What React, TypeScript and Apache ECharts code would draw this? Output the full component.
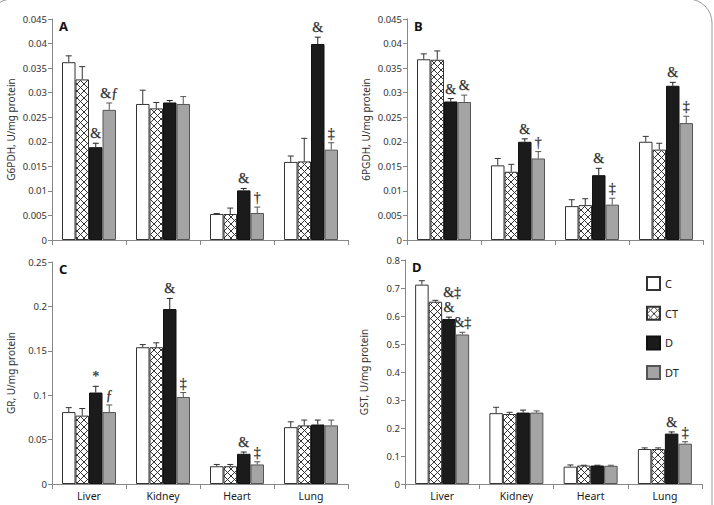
import React, { useEffect, useRef } from 'react';
import * as echarts from 'echarts';

const organs = ['Liver', 'Kidney', 'Heart', 'Lung'];
const groups = ['C', 'CT', 'D', 'DT'];

// G6PDH activity, U/mg protein (mean and SEM per organ)
const g6pdhC = [0.0362, 0.0277, 0.0053, 0.0159];
const g6pdhCT = [0.0327, 0.0268, 0.0053, 0.016];
const g6pdhD = [0.0189, 0.028, 0.0101, 0.0399];
const g6pdhDT = [0.0265, 0.0277, 0.0055, 0.0184];
const g6pdhErrC = [0.0013, 0.0028, 0.0001, 0.0012];
const g6pdhErrCT = [0.0026, 0.0012, 0.0012, 0.0047];
const g6pdhErrD = [0.0008, 0.0004, 0.0004, 0.0014];
const g6pdhErrDT = [0.0014, 0.0015, 0.0012, 0.0014];
const g6pdhMarksD = ['&', '', '&', '&'];
const g6pdhMarksDT = ['&ƒ', '', '†', '‡'];

// 6PGDH activity, U/mg protein
const pgdhC = [0.0368, 0.0152, 0.0069, 0.02];
const pgdhCT = [0.0367, 0.0139, 0.0071, 0.0184];
const pgdhD = [0.0282, 0.02, 0.0132, 0.0314];
const pgdhDT = [0.0281, 0.0166, 0.0072, 0.0238];
const pgdhErrC = [0.0011, 0.0014, 0.0013, 0.0011];
const pgdhErrCT = [0.0018, 0.0015, 0.0013, 0.0013];
const pgdhErrD = [0.0006, 0.0006, 0.0014, 0.0007];
const pgdhErrDT = [0.0014, 0.0014, 0.0013, 0.0014];
const pgdhMarksD = ['&', '&', '&', '&'];
const pgdhMarksDT = ['&', '†', '‡', '‡'];

// GR activity, U/mg protein
const grC = [0.081, 0.154, 0.02, 0.064];
const grCT = [0.077, 0.154, 0.02, 0.066];
const grD = [0.103, 0.197, 0.034, 0.067];
const grDT = [0.081, 0.098, 0.022, 0.066];
const grErrC = [0.005, 0.003, 0.002, 0.006];
const grErrCT = [0.008, 0.005, 0.002, 0.006];
const grErrD = [0.007, 0.012, 0.002, 0.005];
const grErrDT = [0.008, 0.005, 0.003, 0.006];
const grMarksD = ['*', '&', '&', ''];
const grMarksDT = ['ƒ', '‡', '‡', ''];

// GST activity, U/mg protein
const gstC = [0.712, 0.253, 0.062, 0.125];
const gstCT = [0.651, 0.25, 0.066, 0.125];
const gstD = [0.589, 0.255, 0.066, 0.18];
const gstDT = [0.534, 0.255, 0.065, 0.144];
const gstErrC = [0.014, 0.021, 0.006, 0.004];
const gstErrCT = [0.005, 0.006, 0.001, 0.004];
const gstErrD = [0.007, 0.009, 0.001, 0.006];
const gstErrDT = [0.008, 0.006, 0.002, 0.007];
const gstMarksCT = ['&‡', '', '', ''];
const gstMarksD = ['&', '', '', '&'];
const gstMarksDT = ['&‡', '', '', '‡'];

const noMarks = ['', '', '', ''];

// y-axis tick labels
const g6pdhTicks = [0, 0.005, 0.01, 0.015, 0.02, 0.025, 0.03, 0.035, 0.04, 0.045];
const pgdhTicks = [0, 0.005, 0.01, 0.015, 0.02, 0.025, 0.03, 0.035, 0.04, 0.045];
const grTicks = [0, 0.05, 0.1, 0.15, 0.2, 0.25];
const gstTicks = [0, 0.1, 0.2, 0.3, 0.4, 0.5, 0.6, 0.7, 0.8];

const panels = [
  {
    letter: 'A',
    name: 'G6PDH, U/mg protein',
    ticks: g6pdhTicks,
    means: [g6pdhC, g6pdhCT, g6pdhD, g6pdhDT],
    errs: [g6pdhErrC, g6pdhErrCT, g6pdhErrD, g6pdhErrDT],
    marks: [noMarks, noMarks, g6pdhMarksD, g6pdhMarksDT],
    showLabels: false,
  },
  {
    letter: 'B',
    name: '6PGDH, U/mg protein',
    ticks: pgdhTicks,
    means: [pgdhC, pgdhCT, pgdhD, pgdhDT],
    errs: [pgdhErrC, pgdhErrCT, pgdhErrD, pgdhErrDT],
    marks: [noMarks, noMarks, pgdhMarksD, pgdhMarksDT],
    showLabels: false,
  },
  {
    letter: 'C',
    name: 'GR, U/mg protein',
    ticks: grTicks,
    means: [grC, grCT, grD, grDT],
    errs: [grErrC, grErrCT, grErrD, grErrDT],
    marks: [noMarks, noMarks, grMarksD, grMarksDT],
    showLabels: true,
  },
  {
    letter: 'D',
    name: 'GST, U/mg protein',
    ticks: gstTicks,
    means: [gstC, gstCT, gstD, gstDT],
    errs: [gstErrC, gstErrCT, gstErrD, gstErrDT],
    marks: [noMarks, gstMarksCT, gstMarksD, gstMarksDT],
    showLabels: true,
  },
];

// plot areas of the four panels
const grids = [
  { left: 52, top: 19, width: 296, height: 221 },
  { left: 407, top: 19, width: 296, height: 221 },
  { left: 52, top: 262, width: 296, height: 222 },
  { left: 405, top: 260, width: 297, height: 224 },
];

// marks drawn to the right of their bar instead of above it: [panel, group, organ]
const besideBar = [[3, 1, 0]];

const BAR_W = 13.5;
const CAP = 3;
const FONT = "'Noto Sans', 'Open Sans', sans-serif";
const MARK_FONT = "'Liberation Serif', 'DejaVu Serif', serif";
const MARK_COLOR = '#2e2e2e';

function makeHatch(): HTMLCanvasElement {
  const c = document.createElement('canvas');
  c.width = 7;
  c.height = 7;
  const g = c.getContext('2d')!;
  g.fillStyle = '#ffffff';
  g.fillRect(0, 0, 7, 7);
  g.strokeStyle = '#333333';
  g.lineWidth = 1;
  g.beginPath();
  g.moveTo(0, 0);
  g.lineTo(7, 7);
  g.moveTo(7, 0);
  g.lineTo(0, 7);
  g.stroke();
  return c;
}

function tickText(ticks: number[]) {
  return (v: number) => {
    const t = ticks.find((x) => Math.abs(x - v) < 1e-9);
    return t === undefined ? '' : String(t);
  };
}

export default function App() {
  const ref = useRef<HTMLDivElement>(null);

  useEffect(() => {
    const el = ref.current;
    if (!el) return;
    const chart = echarts.init(el, null, { renderer: 'svg' });
    const hatch = makeHatch();

    const barStyles = [
      { color: '#ffffff', borderColor: '#333333', borderWidth: 1 },
      { color: { image: hatch, repeat: 'repeat' }, borderColor: '#333333', borderWidth: 1 },
      { color: '#1b1b1b', borderColor: '#111111', borderWidth: 1 },
      { color: '#a4a4a4', borderColor: '#555555', borderWidth: 1 },
    ];
    const errColors = ['#333333', '#333333', '#222222', '#555555'];

    const series: any[] = [];
    panels.forEach((p, pi) => {
      groups.forEach((g, gi) => {
        series.push({
          type: 'bar',
          name: g,
          xAxisIndex: pi,
          yAxisIndex: pi,
          data: p.means[gi],
          barWidth: BAR_W,
          barGap: '0%',
          itemStyle: barStyles[gi],
          emphasis: { disabled: true },
          z: 2,
        });
      });
      groups.forEach((g, gi) => {
        const marks = p.marks[gi];
        series.push({
          type: 'custom',
          name: `err-${p.letter}-${g}`,
          xAxisIndex: pi,
          yAxisIndex: pi,
          silent: true,
          z: 5,
          itemStyle: { color: MARK_COLOR },
          data: p.means[gi].map((v, i) => [i, v, p.errs[gi][i]]),
          renderItem: (params: any, api: any) => {
            const i = params.dataIndex;
            const cat = api.value(0);
            const v = api.value(1);
            const e = api.value(2);
            const base = api.coord([cat, v]);
            const top = api.coord([cat, v + e]);
            const x = base[0] + (gi - 1.5) * BAR_W;
            const stroke = errColors[gi];
            const children: any[] = [
              { type: 'line', shape: { x1: x, y1: base[1], x2: x, y2: top[1] }, style: { stroke, lineWidth: 1 } },
              { type: 'line', shape: { x1: x - CAP, y1: top[1], x2: x + CAP, y2: top[1] }, style: { stroke, lineWidth: 1 } },
            ];
            const label = marks[i];
            if (label) {
              const beside = besideBar.some((b) => b[0] === pi && b[1] === gi && b[2] === i);
              children.push({
                type: 'text',
                x: beside ? x + BAR_W / 2 + 1 : x,
                y: beside ? top[1] - 1 : top[1] - 3,
                style: {
                  text: label,
                  align: beside ? 'left' : 'center',
                  verticalAlign: 'bottom',
                  fontSize: 14,
                  lineHeight: 13,
                  fontFamily: MARK_FONT,
                  fill: MARK_COLOR,
                  stroke: MARK_COLOR,
                  lineWidth: 0.25,
                },
              });
            }
            return { type: 'group', children };
          },
        });
      });
    });

    const option: any = {
      animation: false,
      backgroundColor: '#ffffff',
      grid: grids.map((g) => ({ ...g, containLabel: false })),
      xAxis: panels.map((p, pi) => ({
        type: 'category',
        gridIndex: pi,
        data: organs,
        axisLine: { show: true, lineStyle: { color: '#888888', width: 1 } },
        axisTick: { show: true, length: 5, lineStyle: { color: '#888888' } },
        axisLabel: {
          show: p.showLabels,
          fontSize: 10.5,
          color: '#222222',
          fontFamily: FONT,
          margin: 6,
        },
        splitLine: { show: false },
      })),
      yAxis: panels.map((p, pi) => ({
        type: 'value',
        gridIndex: pi,
        min: 0,
        max: p.ticks[p.ticks.length - 1],
        interval: p.ticks[1] - p.ticks[0],
        name: p.name,
        nameLocation: 'middle',
        nameGap: 36,
        nameTextStyle: { fontSize: 10, color: '#333333', fontFamily: FONT },
        axisLine: { show: true, lineStyle: { color: '#888888', width: 1 } },
        axisTick: { show: true, length: 4, lineStyle: { color: '#888888' } },
        axisLabel: {
          fontSize: 9.5,
          color: '#333333',
          fontFamily: FONT,
          margin: 5,
          formatter: tickText(p.ticks),
        },
        splitLine: { show: false },
      })),
      legend: {
        data: groups,
        orient: 'vertical',
        left: 646,
        top: 276,
        padding: 0,
        itemWidth: 13,
        itemHeight: 13,
        itemGap: 14.7,
        icon: 'rect',
        selectedMode: false,
        textStyle: { fontSize: 11, lineHeight: 13, color: '#222222', fontFamily: FONT },
      },
      graphic: [
        {
          type: 'rect',
          silent: true,
          shape: { x: -12, y: -1, width: 724, height: 530, r: 24 },
          style: { fill: 'none', stroke: '#9a9a9a', lineWidth: 1 },
        },
        ...panels.map((p, pi) => ({
          type: 'text',
          silent: true,
          left: grids[pi].left + 7,
          top: grids[pi].top,
          style: {
            text: p.letter,
            fontSize: 13,
            fontWeight: 'bold',
            fontFamily: FONT,
            fill: '#111111',
          },
        })),
      ],
      series,
    };

    chart.setOption(option);
    return () => {
      chart.dispose();
    };
  }, []);

  return (
    <div
      ref={ref}
      style={{ position: 'absolute', left: 0, top: 0, width: 714, height: 505, background: '#ffffff' }}
    />
  );
}
